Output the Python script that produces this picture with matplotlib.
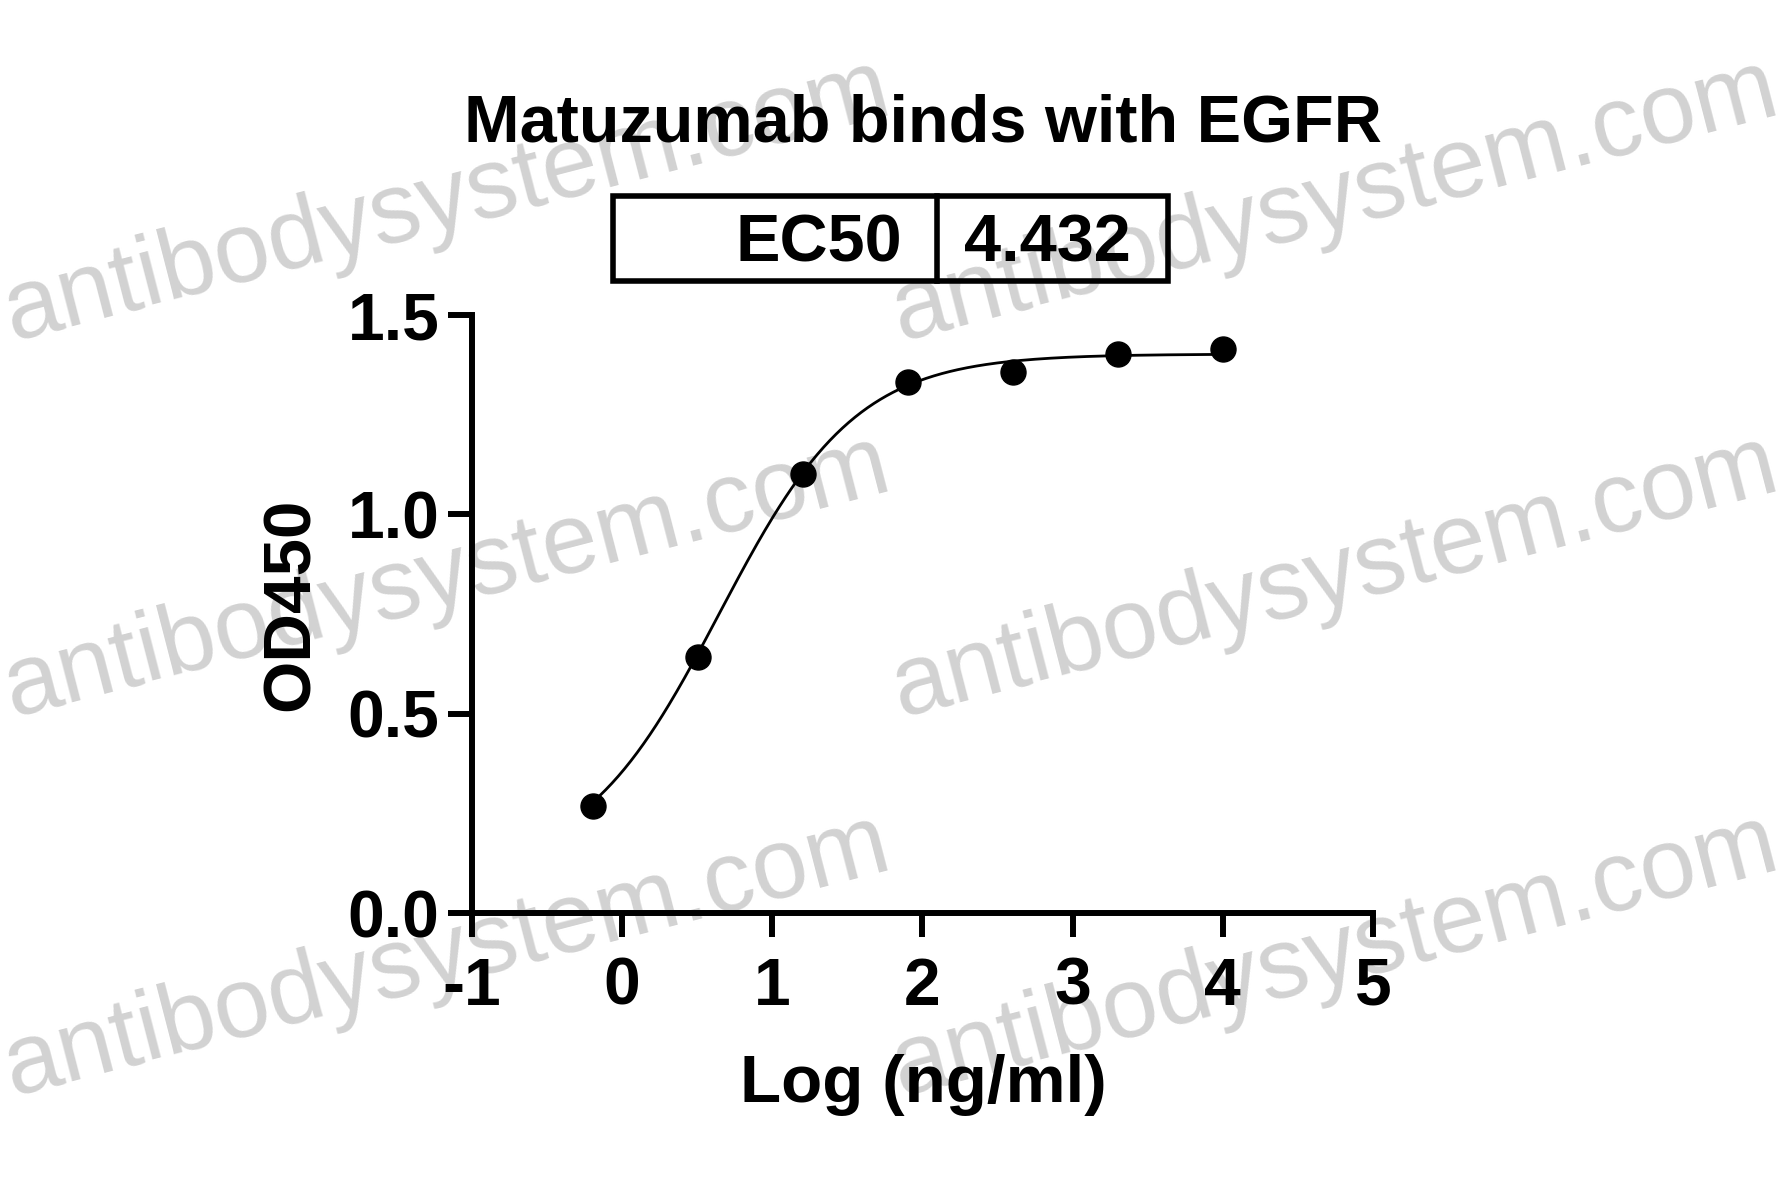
import numpy as np
import matplotlib
matplotlib.use("Agg")
import matplotlib.pyplot as plt
from matplotlib.patches import Rectangle
from matplotlib.lines import Line2D

# ---- data ----
title = "Matuzumab binds with EGFR"
x_label = "Log (ng/ml)"
y_label = "OD450"
log_conc = [-0.194, 0.505, 1.204, 1.903, 2.602, 3.301, 4.0]
od450 = [0.268, 0.642, 1.102, 1.332, 1.358, 1.402, 1.414]
ec50_label = "EC50"
ec50_value = 4.432
# 4PL fit parameters (bottom, top, hill slope); EC50 from table
fit_bottom = 0.10
fit_top = 1.402
fit_hill = 0.95
x_ticks = [-1, 0, 1, 2, 3, 4, 5]
x_tick_labels = ["-1", "0", "1", "2", "3", "4", "5"]
y_ticks = [0.0, 0.5, 1.0, 1.5]
y_tick_labels = ["0.0", "0.5", "1.0", "1.5"]
watermark = "antibodysystem.com"

W, H = 1781, 1197
DPI = 100
FONT = "Liberation Sans"

fig = plt.figure(figsize=(W / DPI, H / DPI), dpi=DPI)
fig.patch.set_facecolor("white")

def fx(px):
    return px / W

def fy(py):
    return 1 - py / H

# watermark (behind everything)
wm_starts = [(12, 341), (900, 341), (12, 717), (900, 717), (12, 1096), (900, 1096)]
for (sx, sy) in wm_starts:
    fig.text(fx(sx), fy(sy), watermark, fontsize=72, family=FONT,
             color="#d2d2d2", rotation=14.5, rotation_mode="anchor",
             ha="left", va="baseline", zorder=-5)

ax = fig.add_axes([fx(472), fy(913), (1373 - 472) / W, (913 - 315) / H])
ax.set_facecolor("none")

# fitted curve
logec50 = np.log10(ec50_value)
xc = np.linspace(min(log_conc), max(log_conc), 400)
yc = fit_bottom + (fit_top - fit_bottom) / (1 + 10 ** (fit_hill * (logec50 - xc)))
ax.plot(xc, yc, color="black", lw=2.0, zorder=3, clip_on=False)
ax.plot(log_conc, od450, "o", color="black", markersize=18, zorder=4, clip_on=False)

ax.set_xlim(-1, 5)
ax.set_ylim(0, 1.5)
ax.set_xticks(x_ticks)
ax.set_xticklabels(x_tick_labels)
ax.set_yticks(y_ticks)
ax.set_yticklabels(y_tick_labels)

for s in ["top", "right"]:
    ax.spines[s].set_visible(False)
for s in ["left", "bottom"]:
    ax.spines[s].set_linewidth(4.3)
    ax.spines[s].set_capstyle("projecting")

ax.tick_params(axis="both", width=4.3, length=17.5, color="black")
ax.tick_params(axis="x", pad=14)
ax.tick_params(axis="y", pad=6)
for lab in ax.get_xticklabels() + ax.get_yticklabels():
    lab.set_fontfamily(FONT)
    lab.set_fontweight("bold")
    lab.set_fontsize(47.5)

# axis labels
fig.text(fx(923), fy(1102), x_label, fontsize=48.5, family=FONT, fontweight="bold",
         ha="center", va="baseline")
fig.text(fx(292), fy(604), y_label, fontsize=48.5, family=FONT, fontweight="bold",
         rotation=90, ha="center", va="center")

# title
fig.text(fx(923), fy(142), title, fontsize=48, family=FONT, fontweight="bold",
         ha="center", va="baseline")

# EC50 table
box_l, box_r, box_t, box_b, div_x = 613, 1168, 196, 281, 937
rect = Rectangle((fx(box_l), fy(box_b)), fx(box_r) - fx(box_l), fy(box_t) - fy(box_b),
                 transform=fig.transFigure, fill=False, edgecolor="black", lw=4.0)
fig.add_artist(rect)
fig.add_artist(Line2D([fx(div_x), fx(div_x)], [fy(box_t), fy(box_b)],
                      transform=fig.transFigure, color="black", lw=4.0))
fig.text(fx(902), fy(261), ec50_label, fontsize=48, family=FONT, fontweight="bold",
         ha="right", va="baseline")
fig.text(fx(964), fy(261), f"{ec50_value:.3f}", fontsize=48, family=FONT, fontweight="bold",
         ha="left", va="baseline")

fig.savefig("out.png", dpi=DPI)
